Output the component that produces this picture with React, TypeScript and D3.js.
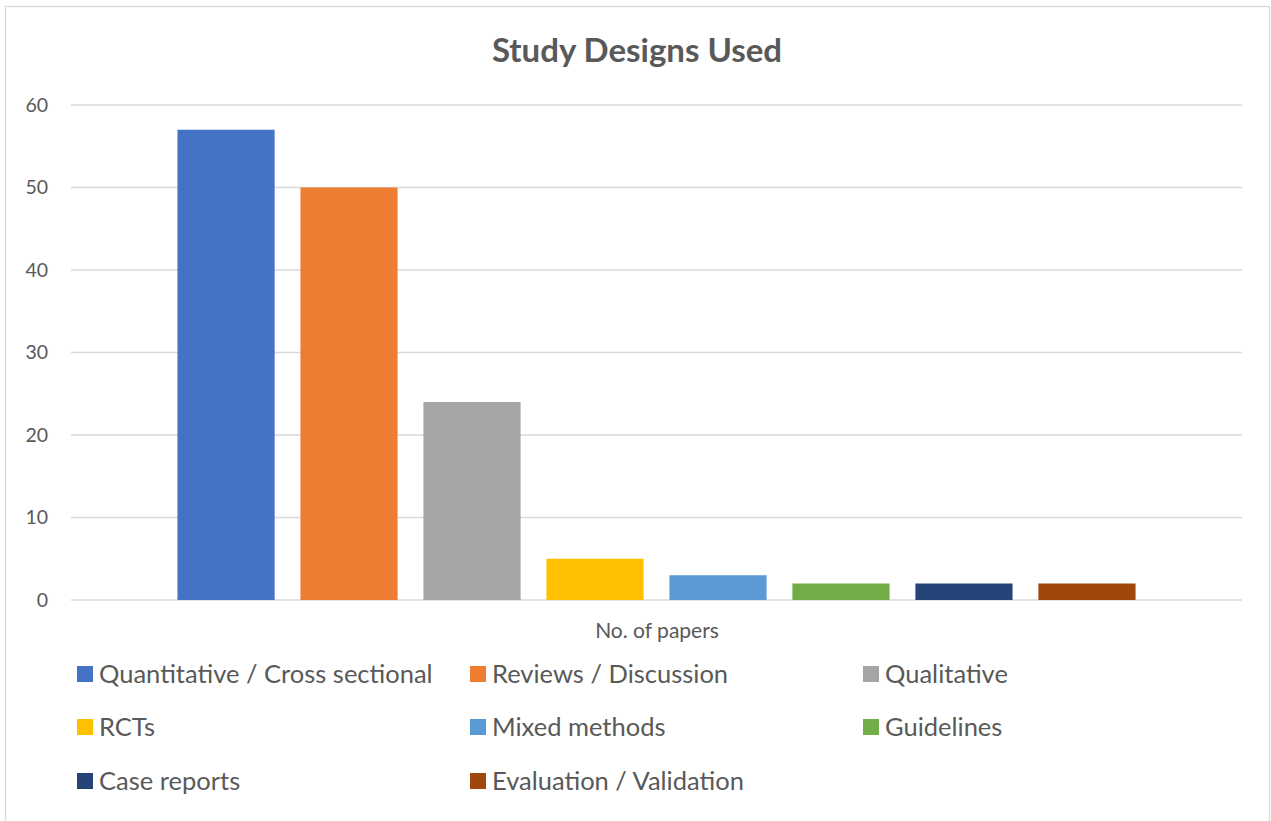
import React from "react";
import * as d3 from "d3";

// Study design counts, one bar per design within a single category
const category = "No. of papers";
const designs = [
  "Quantitative / Cross sectional",
  "Reviews / Discussion",
  "Qualitative",
  "RCTs",
  "Mixed methods",
  "Guidelines",
  "Case reports",
  "Evaluation / Validation",
];
const counts = [57, 50, 24, 5, 3, 2, 2, 2];
const colors = [
  "#4472C4",
  "#ED7D31",
  "#A5A5A5",
  "#FFC000",
  "#5B9BD5",
  "#70AD47",
  "#264478",
  "#9E480E",
];
const yTicks = [0, 10, 20, 30, 40, 50, 60];
const title = "Study Designs Used";

const W = 1271;
const H = 821;
const plot = { left: 71, right: 1242, top: 105, bottom: 600 };
const FONT = "Lato, 'Open Sans', sans-serif";
const TEXT = "#595959";
const GRID = "#D9D9D9";

export default function App() {
  const y = d3.scaleLinear().domain([0, 60]).range([plot.bottom, plot.top]);
  const x0 = d3
    .scaleBand<string>()
    .domain([category])
    .range([plot.left, plot.right])
    .padding(0.1);
  const groupStart = x0(category) ?? 0;
  const x1 = d3
    .scaleBand<string>()
    .domain(designs)
    .range([groupStart, groupStart + x0.bandwidth()])
    .paddingInner(0.21)
    .paddingOuter(0);

  const legendCols = [77, 470, 863];
  const legendRows = [674, 727, 781];

  return (
    <svg
      width={W}
      height={H}
      style={{ position: "absolute", left: 0, top: 0, background: "#fff" }}
      fontFamily={FONT}
    >
      <rect x={5.5} y={6.5} width={1264} height={830} fill="#fff" stroke={GRID} strokeWidth={1.3} />
      <text
        x={637}
        y={62}
        textAnchor="middle"
        fontSize={33}
        fontWeight={700}
        fill={TEXT}
      >
        {title}
      </text>

      {yTicks.map((t) => (
        <g key={t}>
          <line
            x1={plot.left}
            x2={plot.right}
            y1={y(t)}
            y2={y(t)}
            stroke={GRID}
            strokeWidth={t === 0 ? 1.6 : 1.3}
          />
          <text
            x={48}
            y={y(t)}
            dy="0.35em"
            textAnchor="end"
            fontSize={19.5}
            fill={TEXT}
          >
            {t}
          </text>
        </g>
      ))}

      {designs.map((d, i) => {
        const top = y(counts[i]);
        return (
          <rect
            key={d}
            x={x1(d)}
            y={top}
            width={x1.bandwidth()}
            height={y(0) - top}
            fill={colors[i]}
          />
        );
      })}

      <text x={657} y={638} textAnchor="middle" fontSize={21} fill={TEXT}>
        {category}
      </text>

      {designs.map((d, i) => {
        const cx = legendCols[i % 3];
        const cy = legendRows[Math.floor(i / 3)];
        return (
          <g key={d} transform={`translate(${cx},${cy})`}>
            <rect x={0} y={-8} width={16} height={16} fill={colors[i]} />
            <text x={22} y={0} dy="0.36em" fontSize={25.5} fill={TEXT}>
              {d}
            </text>
          </g>
        );
      })}
    </svg>
  );
}
